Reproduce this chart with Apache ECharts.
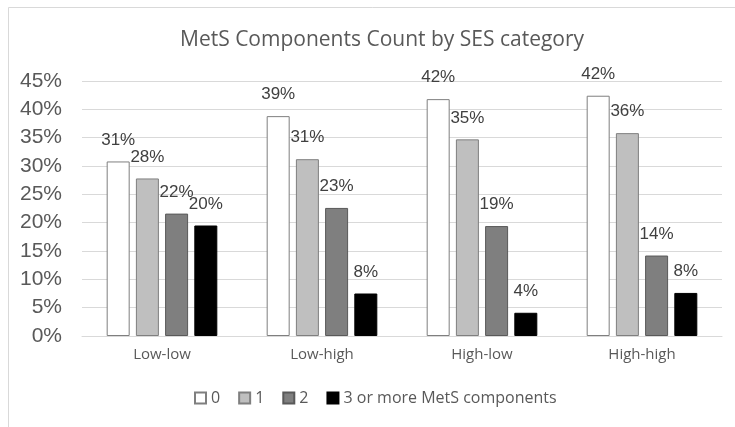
<!DOCTYPE html>
<html>
<head>
<meta charset="utf-8">
<script src="https://cdn.jsdelivr.net/npm/echarts@6/dist/echarts.min.js"></script>
<style>
  html, body { margin: 0; padding: 0; background: #fff; }
  #chart { width: 735px; height: 427px; }
</style>
</head>
<body>
<div id="chart"></div>
<script>
// data
const categories = ['Low-low', 'Low-high', 'High-low', 'High-high'];
const seriesNames = ['0', '1', '2', '3 or more MetS components'];
const zeroComp = [30.8, 38.8, 41.8, 42.4];
const oneComp = [27.8, 31.2, 34.7, 35.8];
const twoComp = [21.6, 22.6, 19.4, 14.2];
const threePlus = [19.5, 7.5, 4.1, 7.6];

const fills = ['#ffffff', '#bfbfbf', '#7f7f7f', '#000000'];
const borders = ['#7f7f7f', '#7f7f7f', '#595959', '#000000'];

const chart = echarts.init(document.getElementById('chart'));

function barSeries(name, data, i) {
  return {
    type: 'bar',
    name: name,
    data: data,
    barWidth: 23,
    barGap: '27%',
    itemStyle: { color: fills[i], borderColor: borders[i], borderWidth: 1 },
    label: {
      show: true,
      position: 'top',
      distance: 13,
      fontFamily: 'Liberation Sans',
      fontSize: 17,
      color: '#404040',
      formatter: (p) => Math.round(p.value) + '%'
    }
  };
}

chart.setOption({
  animation: false,
  backgroundColor: '#fff',
  graphic: [{
    type: 'rect',
    shape: { x: 8.5, y: 7.5, width: 740, height: 430 },
    style: { fill: 'none', stroke: '#d9d9d9', lineWidth: 1 },
    silent: true
  }],
  title: {
    text: 'MetS Components Count by SES category',
    left: 175,
    top: 25,
    textStyle: { fontFamily: 'Open Sans', fontSize: 21, fontWeight: 'normal', color: '#595959' }
  },
  legend: {
    bottom: 16,
    left: 189,
    icon: 'rect',
    itemWidth: 11,
    itemHeight: 11,
    itemGap: 18,
    textStyle: { fontFamily: 'Open Sans', fontSize: 16, color: '#595959' }
  },
  grid: { left: 82, right: 13, top: 81, bottom: 91 },
  xAxis: {
    type: 'category',
    data: categories,
    axisTick: { show: false },
    axisLine: { lineStyle: { color: '#d9d9d9' } },
    axisLabel: { fontFamily: 'Open Sans', fontSize: 15, color: '#595959', margin: 11 }
  },
  yAxis: {
    type: 'value',
    min: 0,
    max: 45,
    interval: 5,
    axisLine: { show: false },
    axisTick: { show: false },
    splitLine: { lineStyle: { color: '#d9d9d9' } },
    axisLabel: {
      fontFamily: 'Liberation Sans',
      fontSize: 21,
      color: '#595959',
      margin: 20,
      formatter: '{value}%'
    }
  },
  series: [
    barSeries(seriesNames[0], zeroComp, 0),
    barSeries(seriesNames[1], oneComp, 1),
    barSeries(seriesNames[2], twoComp, 2),
    barSeries(seriesNames[3], threePlus, 3)
  ]
});
</script>
</body>
</html>
